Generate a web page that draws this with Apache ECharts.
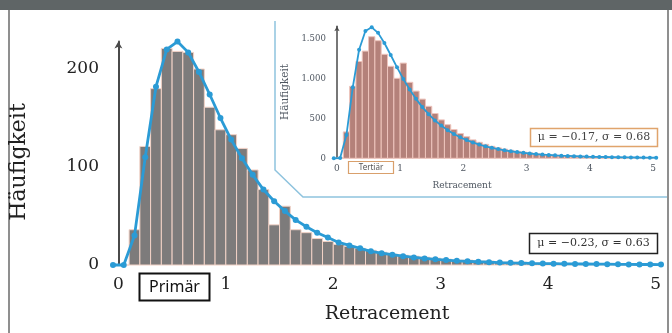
<!DOCTYPE html>
<html><head><meta charset="utf-8">
<script src="https://cdn.jsdelivr.net/npm/echarts@6/dist/echarts.min.js"></script>
<style>html,body{margin:0;padding:0;background:#fff}#c{width:672px;height:333px}</style>
</head><body><div id="c"></div>
<script>
// ---------- data ----------
const BIN = 0.1;
const binStarts = [0,0.1,0.2,0.3,0.4,0.5,0.6,0.7,0.8,0.9,1.0,1.1,1.2,1.3,1.4,1.5,1.6,1.7,1.8,1.9,
  2.0,2.1,2.2,2.3,2.4,2.5,2.6,2.7,2.8,2.9,3.0,3.1,3.2,3.3,3.4,3.5,3.6,3.7,3.8,3.9,
  4.0,4.1,4.2,4.3,4.4,4.5,4.6,4.7,4.8,4.9];
const primaryCounts = [0,36,121,180,221,218,217,200,161,138,133,119,97,77,41,60,36,33,27,24,
  21,19,17,15,13,11,10,9,8,7,6,5,5,4,4,3,3,3,2,2,
  2,1,1,1,1,1,1,1,1,1];
const tertiaryCounts = [10,330,900,1210,1340,1520,1470,1300,1150,1000,1190,950,840,740,650,560,480,420,360,310,
  270,230,200,175,150,130,115,100,88,78,68,60,53,47,42,37,33,30,27,24,
  21,19,17,16,14,13,12,11,10,9];
const fitX = [-0.05,0.05,0.15,0.25,0.35,0.45,0.55,0.65,0.75,0.85,0.95,1.05,1.15,1.25,1.35,1.45,1.55,1.65,1.75,1.85,1.95,
  2.05,2.15,2.25,2.35,2.45,2.55,2.65,2.75,2.85,2.95,3.05,3.15,3.25,3.35,3.45,3.55,3.65,3.75,3.85,3.95,
  4.05,4.15,4.25,4.35,4.45,4.55,4.65,4.75,4.85,4.95,5.05];
const primaryFit = [0,0,30,110,182,220,228,217,197,174,150,128,109,92,77,65,55,46,39,33,28,
  23,20,17,14,12,10.5,9,7.7,6.7,5.8,5.0,4.3,3.8,3.3,2.9,2.5,2.2,2.0,1.7,1.5,
  1.4,1.2,1.1,1.0,0.9,0.8,0.7,0.6,0.5,0.5,0.4];
const tertiaryFit = [0,4,290,887,1357,1591,1637,1568,1441,1291,1137,992,860,743,640,551,474,409,352,304,263,
  228,198,172,150,131,115,100,88,78,68,60,53,47,42,37,33,30,27,24,21,
  19,17,16,14,13,12,11,10,9,8,7];
const xTicks = [0,1,2,3,4,5];
const mainYTicks = [0,100,200];
const insetYTicks = [0,500,1000,1500];
const mainStats = 'μ = −0.23, σ = 0.63';
const insetStats = 'μ = −0.17, σ = 0.68';

// ---------- chart ----------
const chart = echarts.init(document.getElementById('c'), null, {renderer:'canvas'});
const SERIF = 'DejaVu Serif';
const BLUE = '#2b9bd5';

function hist(fill, edge){
  return function(params, api){
    const x0 = api.value(0), x1 = api.value(1), v = api.value(2);
    const p0 = api.coord([x0, 0]);
    const p1 = api.coord([x1, v]);
    return {type:'rect', shape:{x:p0[0], y:p1[1], width:p1[0]-p0[0], height:p0[1]-p1[1]},
      style:{fill:fill, stroke:edge, lineWidth:1}};
  };
}
const mainBars = binStarts.map((s,i)=>[s, s+BIN, primaryCounts[i]]);
const insetBars = binStarts.map((s,i)=>[s, s+BIN, tertiaryCounts[i]]);
const mainLine = fitX.map((x,i)=>[x, primaryFit[i]]);
const insetLine = fitX.map((x,i)=>[x, tertiaryFit[i]]);

const dotFmt = v => String(v).replace(/\B(?=(\d{3})+(?!\d))/g, '.');

const option = {
  animation:false,
  backgroundColor:'#fff',
  grid:[
    {left:113, top:41.6, width:548, height:223.4},
    {left:333.8, top:26.3, width:322.4, height:132}
  ],
  xAxis:[
    {gridIndex:0, type:'value', min:-0.05, max:5.05,
      axisLine:{show:false}, axisTick:{show:false}, splitLine:{show:false},
      axisLabel:{customValues:xTicks, margin:11, fontFamily:SERIF, fontSize:17, color:'#222'}},
    {gridIndex:1, type:'value', min:-0.05, max:5.05,
      axisLine:{show:false}, axisTick:{show:false}, splitLine:{show:false},
      axisLabel:{customValues:xTicks, margin:6, fontFamily:SERIF, fontSize:9, color:'#4e5660'}}
  ],
  yAxis:[
    {gridIndex:0, type:'value', min:0, max:228,
      axisLine:{show:true, lineStyle:{color:'#4a4a4a', width:2}, symbol:['none','arrow'], symbolSize:[6,7]},
      axisTick:{show:false}, splitLine:{show:false},
      axisLabel:{customValues:mainYTicks, margin:14, fontFamily:SERIF, fontSize:17, color:'#222'}},
    {gridIndex:1, type:'value', min:0, max:1650,
      axisLine:{show:true, lineStyle:{color:'#4a4a4a', width:1.5}, symbol:['none','arrow'], symbolSize:[4,5]},
      axisTick:{show:false}, splitLine:{show:false},
      axisLabel:{customValues:insetYTicks, margin:8, fontFamily:SERIF, fontSize:8.5, color:'#4e5660', formatter:dotFmt}}
  ],
  series:[
    {type:'custom', xAxisIndex:0, yAxisIndex:0, renderItem:hist('#7d7b7b','#f2d2c6'),
      encode:{x:[0,1], y:2}, data:mainBars, z:2},
    {type:'line', xAxisIndex:0, yAxisIndex:0, data:mainLine, clip:false,
      symbol:'circle', symbolSize:6, showSymbol:true,
      lineStyle:{color:BLUE, width:2.8}, itemStyle:{color:BLUE}, z:3},
    {type:'custom', xAxisIndex:1, yAxisIndex:1, renderItem:hist('#b4817a','#eec4bc'),
      encode:{x:[0,1], y:2}, data:insetBars, z:2},
    {type:'line', xAxisIndex:1, yAxisIndex:1, data:insetLine, clip:false,
      symbol:'circle', symbolSize:4, showSymbol:true,
      lineStyle:{color:BLUE, width:1.8}, itemStyle:{color:BLUE}, z:3}
  ],
  graphic:[
    {type:'rect', shape:{x:0, y:0, width:672, height:10}, style:{fill:'#5f6566'}, z:0},
    {type:'line', shape:{x1:9, y1:10, x2:9, y2:333}, style:{stroke:'#6a6a6a', lineWidth:1.5}},
    {type:'line', shape:{x1:668, y1:10, x2:668, y2:333}, style:{stroke:'#6a6a6a', lineWidth:1.5}},
    {type:'polyline', shape:{points:[[275,21],[275,170],[303,197],[667,197]]}, style:{stroke:'#8ec3de', lineWidth:1.5, fill:null}},
    {type:'text', x:19, y:162, rotation:Math.PI/2, style:{text:'Häufigkeit', font:'22px "DejaVu Serif"', fill:'#222', align:'center', verticalAlign:'middle'}},
    {type:'text', x:387, y:314, style:{text:'Retracement', font:'19px "DejaVu Serif"', fill:'#222', align:'center', verticalAlign:'middle'}},
    {type:'text', x:285, y:92, rotation:Math.PI/2, style:{text:'Häufigkeit', font:'10.5px "DejaVu Serif"', fill:'#4e5660', align:'center', verticalAlign:'middle'}},
    {type:'text', x:462, y:186, style:{text:'Retracement', font:'9px "DejaVu Serif"', fill:'#4e5660', align:'center', verticalAlign:'middle'}},
    {type:'rect', shape:{x:139.5, y:273.5, width:70, height:27}, style:{fill:'#fff', stroke:'#111', lineWidth:2}},
    {type:'text', x:174.5, y:287, style:{text:'Primär', font:'16px "Noto Sans"', fill:'#111', align:'center', verticalAlign:'middle'}},
    {type:'rect', shape:{x:348.5, y:161.5, width:45, height:12}, style:{fill:'#fff', stroke:'#d9a06c', lineWidth:1.2}},
    {type:'text', x:371, y:167.5, style:{text:'Tertiär', font:'8px "Noto Sans"', fill:'#555', align:'center', verticalAlign:'middle'}},
    {type:'rect', shape:{x:529.5, y:233.5, width:128, height:20}, style:{fill:'#fff', stroke:'#222', lineWidth:1.5}},
    {type:'text', x:593.5, y:243.5, style:{text:mainStats, font:'11px "DejaVu Serif"', fill:'#333', align:'center', verticalAlign:'middle'}},
    {type:'rect', shape:{x:530.5, y:128.5, width:127, height:18}, style:{fill:'#fff', stroke:'#e0a46c', lineWidth:1.5}},
    {type:'text', x:594, y:137.5, style:{text:insetStats, font:'11px "DejaVu Serif"', fill:'#444', align:'center', verticalAlign:'middle'}}
  ]
};
chart.setOption(option);
</script></body></html>
